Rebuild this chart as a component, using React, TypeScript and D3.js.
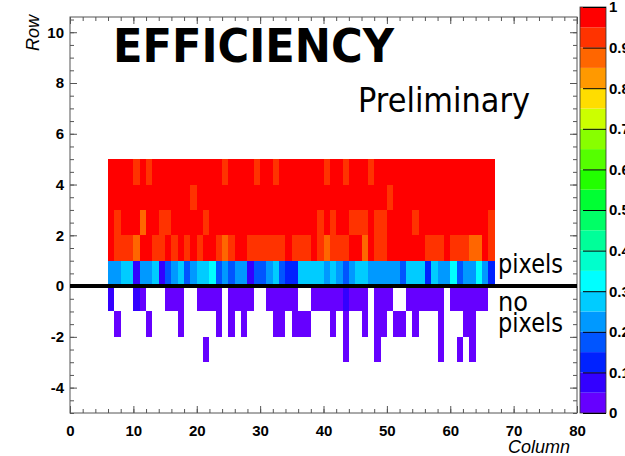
import React, { useEffect, useRef } from 'react';
import * as d3 from 'd3';

// efficiency per column (columns 6..66), one array per row bin
const firstColumn = 6;

const row4 = [
  0.97, 0.97, 0.97, 0.97, 0.92, 0.97, 0.92, 0.97, 0.97, 0.97,
  0.97, 0.97, 0.97, 0.97, 0.97, 0.97, 0.97, 0.97, 0.92, 0.97,
  0.97, 0.97, 0.97, 0.92, 0.97, 0.97, 0.92, 0.97, 0.97, 0.97,
  0.97, 0.97, 0.97, 0.97, 0.92, 0.97, 0.97, 0.92, 0.97, 0.97,
  0.97, 0.92, 0.97, 0.97, 0.97, 0.97, 0.97, 0.97, 0.97, 0.97,
  0.97, 0.97, 0.97, 0.97, 0.97, 0.97, 0.97, 0.97, 0.97, 0.97,
  0.97,
];
const row3 = [
  0.97, 0.97, 0.97, 0.97, 0.97, 0.97, 0.97, 0.97, 0.97, 0.97,
  0.97, 0.97, 0.97, 0.92, 0.97, 0.97, 0.97, 0.97, 0.97, 0.97,
  0.97, 0.97, 0.97, 0.97, 0.97, 0.97, 0.97, 0.97, 0.97, 0.97,
  0.97, 0.97, 0.97, 0.97, 0.97, 0.97, 0.97, 0.97, 0.97, 0.97,
  0.97, 0.97, 0.97, 0.97, 0.92, 0.97, 0.97, 0.97, 0.97, 0.97,
  0.97, 0.97, 0.97, 0.97, 0.97, 0.97, 0.97, 0.97, 0.97, 0.97,
  0.97,
];
const row2 = [
  0.97, 0.92, 0.97, 0.97, 0.97, 0.87, 0.97, 0.97, 0.92, 0.92,
  0.97, 0.97, 0.97, 0.97, 0.97, 0.92, 0.97, 0.97, 0.97, 0.97,
  0.97, 0.97, 0.97, 0.97, 0.97, 0.97, 0.97, 0.97, 0.97, 0.97,
  0.97, 0.97, 0.97, 0.92, 0.97, 0.92, 0.97, 0.97, 0.92, 0.92,
  0.92, 0.97, 0.92, 0.92, 0.97, 0.97, 0.97, 0.97, 0.92, 0.97,
  0.97, 0.97, 0.97, 0.97, 0.97, 0.97, 0.97, 0.97, 0.97, 0.97,
  0.92,
];
const row1 = [
  0.97, 0.92, 0.92, 0.92, 0.87, 0.97, 0.97, 0.92, 0.92, 0.97,
  0.92, 0.97, 0.92, 0.97, 0.92, 0.97, 0.97, 0.92, 0.87, 0.92,
  0.97, 0.97, 0.92, 0.92, 0.92, 0.92, 0.92, 0.92, 0.97, 0.92,
  0.92, 0.92, 0.97, 0.92, 0.87, 0.92, 0.92, 0.92, 0.97, 0.97,
  0.87, 0.97, 0.92, 0.92, 0.97, 0.97, 0.97, 0.97, 0.97, 0.97,
  0.92, 0.92, 0.92, 0.97, 0.92, 0.92, 0.92, 0.87, 0.87, 0.97,
  0.92,
];
const row0 = [
  0.22, 0.22, 0.27, 0.27, 0.07, 0.22, 0.22, 0.27, 0.07, 0.17,
  0.22, 0.27, 0.17, 0.22, 0.27, 0.27, 0.32, 0.17, 0.22, 0.17,
  0.22, 0.22, 0.07, 0.17, 0.17, 0.22, 0.27, 0.17, 0.12, 0.12,
  0.27, 0.27, 0.27, 0.27, 0.22, 0.27, 0.22, 0.17, 0.22, 0.27,
  0.27, 0.22, 0.22, 0.22, 0.22, 0.22, 0.17, 0.27, 0.27, 0.27,
  0.12, 0.27, 0.22, 0.22, 0.32, 0.17, 0.22, 0.22, 0.32, 0.22,
  0.12,
];
const rowM1 = [
  0.07, null, null, null, 0.07, 0.02, null, null, null, 0.02,
  0.02, 0.02, null, null, 0.02, 0.02, 0.02, 0.02, null, 0.02,
  0.02, 0.02, 0.02, null, null, 0.02, 0.02, 0.02, 0.02, 0.02,
  null, null, 0.02, 0.02, 0.02, 0.02, 0.02, 0.07, 0.02, 0.02,
  0.02, null, 0.02, 0.02, 0.02, null, null, 0.02, 0.02, 0.02,
  0.02, 0.02, 0.02, null, 0.02, 0.02, 0.02, 0.02, 0.02, 0.02,
  null,
];
const rowM2 = [
  null, 0.02, null, null, null, null, 0.02, null, null, null,
  null, 0.02, null, null, null, null, null, 0.02, null, 0.02,
  null, 0.02, null, null, null, null, 0.02, 0.02, null, 0.02,
  0.02, 0.02, null, null, null, 0.02, null, 0.02, null, null,
  0.02, null, 0.02, 0.02, null, 0.02, 0.02, null, 0.02, null,
  null, null, 0.02, null, null, null, 0.02, 0.02, null, null,
  null,
];
const rowM3 = [
  null, null, null, null, null, null, null, null, null, null,
  null, null, null, null, null, 0.02, null, null, null, null,
  null, null, null, null, null, null, null, null, null, null,
  null, null, null, null, null, null, null, 0.02, null, null,
  null, null, 0.02, null, null, null, null, null, null, null,
  null, null, 0.02, null, null, 0.02, null, 0.02, null, null,
  null,
];

const rowBins = [4, 3, 2, 1, 0, -1, -2, -3];
const rowValues = [row4, row3, row2, row1, row0, rowM1, rowM2, rowM3];

const palette = [
  '#6600ff', '#3300ff', '#0022ff', '#0055ff', '#0099ff',
  '#00ccff', '#00ffff', '#00ffcc', '#00ff99', '#00ff66',
  '#00ff33', '#22ff00', '#55ff00', '#88ff00', '#ccff00',
  '#ffdd00', '#ff9900', '#ff6600', '#ff3300', '#ff0000',
];

const yMajor = [-4, -2, 0, 2, 4, 6, 8, 10];
const xMajor = [0, 10, 20, 30, 40, 50, 60, 70, 80];
const zTicks = [0, 0.1, 0.2, 0.3, 0.4, 0.5, 0.6, 0.7, 0.8, 0.9, 1];

function App() {
  const svgRef = useRef(null);

  useEffect(() => {
    const svg = d3.select(svgRef.current);
    svg.selectAll('*').remove();

    const width = 625;
    const height = 456;
    const frame = { left: 70, right: 577, top: 17, bottom: 413 };
    const labelFont = '"Liberation Sans", Arial, sans-serif';
    const axisColor = '#555';

    svg.attr('width', width).attr('height', height);

    const x = d3.scaleLinear().domain([0, 80]).range([frame.left, frame.right]);
    const y = d3.scaleLinear().domain([-5, 10.6]).range([frame.bottom, frame.top]);
    const color = d3.scaleQuantize<string>().domain([0, 1]).range(palette);

    // cells
    const cells = [];
    rowValues.forEach((vals, r) => {
      vals.forEach((v, i) => {
        if (v == null) return;
        cells.push({ col: firstColumn + i, row: rowBins[r], v });
      });
    });

    svg.append('g')
      .attr('shape-rendering', 'crispEdges')
      .selectAll('rect')
      .data(cells)
      .join('rect')
      .attr('x', d => x(d.col))
      .attr('y', d => y(d.row + 1))
      .attr('width', d => x(d.col + 1) - x(d.col))
      .attr('height', d => y(d.row) - y(d.row + 1))
      .attr('fill', d => color(d.v));

    // frame
    svg.append('rect')
      .attr('x', frame.left).attr('y', frame.top)
      .attr('width', frame.right - frame.left)
      .attr('height', frame.bottom - frame.top)
      .attr('fill', 'none')
      .attr('stroke', axisColor);

    const styleAxis = (g, showLabels) => {
      g.select('.domain').remove();
      g.selectAll('.tick line').attr('stroke', axisColor);
      if (showLabels) {
        g.selectAll('.tick text')
          .attr('font-family', labelFont)
          .attr('font-weight', 'bold')
          .attr('font-size', 15)
          .attr('fill', '#000');
      } else {
        g.selectAll('.tick text').remove();
      }
    };

    const yMinor = d3.range(-5, 10.6, 0.5);
    const xMinor = d3.range(0, 81, 2);
    const plain = d => String(d);

    // left
    svg.append('g').attr('transform', `translate(${frame.left},0)`)
      .call(d3.axisLeft(y).tickValues(yMinor).tickSize(-4))
      .call(g => styleAxis(g, false));
    svg.append('g').attr('transform', `translate(${frame.left},0)`)
      .call(d3.axisLeft(y).tickValues(yMajor).tickSize(-7).tickPadding(6).tickFormat(plain))
      .call(g => styleAxis(g, true));
    // right
    svg.append('g').attr('transform', `translate(${frame.right},0)`)
      .call(d3.axisRight(y).tickValues(yMinor).tickSize(-4))
      .call(g => styleAxis(g, false));
    svg.append('g').attr('transform', `translate(${frame.right},0)`)
      .call(d3.axisRight(y).tickValues(yMajor).tickSize(-7))
      .call(g => styleAxis(g, false));
    // bottom
    svg.append('g').attr('transform', `translate(0,${frame.bottom})`)
      .call(d3.axisBottom(x).tickValues(xMinor).tickSize(-4))
      .call(g => styleAxis(g, false));
    svg.append('g').attr('transform', `translate(0,${frame.bottom})`)
      .call(d3.axisBottom(x).tickValues(xMajor).tickSize(-7).tickPadding(12).tickFormat(plain))
      .call(g => styleAxis(g, true));
    // top
    svg.append('g').attr('transform', `translate(0,${frame.top})`)
      .call(d3.axisTop(x).tickValues(xMinor).tickSize(-4))
      .call(g => styleAxis(g, false));
    svg.append('g').attr('transform', `translate(0,${frame.top})`)
      .call(d3.axisTop(x).tickValues(xMajor).tickSize(-7))
      .call(g => styleAxis(g, false));

    // zero line
    svg.append('line')
      .attr('x1', frame.left).attr('x2', frame.right)
      .attr('y1', y(0)).attr('y2', y(0))
      .attr('stroke', '#000').attr('stroke-width', 4);

    // axis titles
    svg.append('text')
      .attr('transform', `translate(39,${frame.top - 2}) rotate(-90)`)
      .attr('text-anchor', 'end')
      .attr('font-family', labelFont)
      .attr('font-style', 'italic')
      .attr('font-size', 18)
      .text('Row');
    svg.append('text')
      .attr('x', 570).attr('y', 453)
      .attr('text-anchor', 'end')
      .attr('font-family', labelFont)
      .attr('font-style', 'italic')
      .attr('font-size', 18)
      .text('Column');

    // color bar
    const bar = { left: 580, right: 606, top: 7, bottom: 413 };
    const z = d3.scaleLinear().domain([0, 1]).range([bar.bottom, bar.top]);
    svg.append('g')
      .selectAll('rect')
      .data(palette)
      .join('rect')
      .attr('x', bar.left)
      .attr('y', (d, i) => z((i + 1) / palette.length))
      .attr('width', bar.right - bar.left)
      .attr('height', (d, i) => z(i / palette.length) - z((i + 1) / palette.length))
      .attr('fill', d => d);
    svg.append('rect')
      .attr('x', bar.left).attr('y', bar.top)
      .attr('width', bar.right - bar.left)
      .attr('height', bar.bottom - bar.top)
      .attr('fill', 'none')
      .attr('stroke', '#333')
      .attr('stroke-width', 0.8);
    svg.append('g').attr('transform', `translate(${bar.right},0)`)
      .call(d3.axisRight(z).tickValues(zTicks).tickSize(-23).tickPadding(3)
        .tickFormat(d => (d === 0 || d === 1 ? String(d) : d3.format('.1f')(d))))
      .call(g => {
        g.select('.domain').remove();
        g.selectAll('.tick line').attr('stroke', '#000');
        g.selectAll('.tick text')
          .attr('font-family', labelFont)
          .attr('font-weight', 'bold')
          .attr('font-size', 15)
          .attr('fill', '#000');
      });

    // annotations
    const annoFont = '"DejaVu Sans", Verdana, sans-serif';
    svg.append('text')
      .attr('x', 113).attr('y', 62)
      .attr('font-family', annoFont)
      .attr('font-weight', 'bold')
      .attr('font-size', 46)
      .attr('textLength', 281)
      .attr('lengthAdjust', 'spacingAndGlyphs')
      .text('EFFICIENCY');
    svg.append('text')
      .attr('x', 358).attr('y', 112)
      .attr('font-family', annoFont)
      .attr('font-size', 33)
      .attr('textLength', 172)
      .attr('lengthAdjust', 'spacingAndGlyphs')
      .text('Preliminary');

    const pixelLabels = [
      { text: 'pixels', y: 273 },
      { text: 'no', y: 311 },
      { text: 'pixels', y: 332 },
    ];
    svg.append('g')
      .selectAll('text')
      .data(pixelLabels)
      .join('text')
      .attr('x', 498)
      .attr('y', d => d.y)
      .attr('font-family', annoFont)
      .attr('font-size', 26)
      .attr('textLength', d => (d.text === 'no' ? 30 : 65))
      .attr('lengthAdjust', 'spacingAndGlyphs')
      .text(d => d.text);
  }, []);

  return (
    <svg
      ref={svgRef}
      style={{ position: 'absolute', left: 0, top: 0, display: 'block', background: '#fff' }}
    />
  );
}

export default App;
